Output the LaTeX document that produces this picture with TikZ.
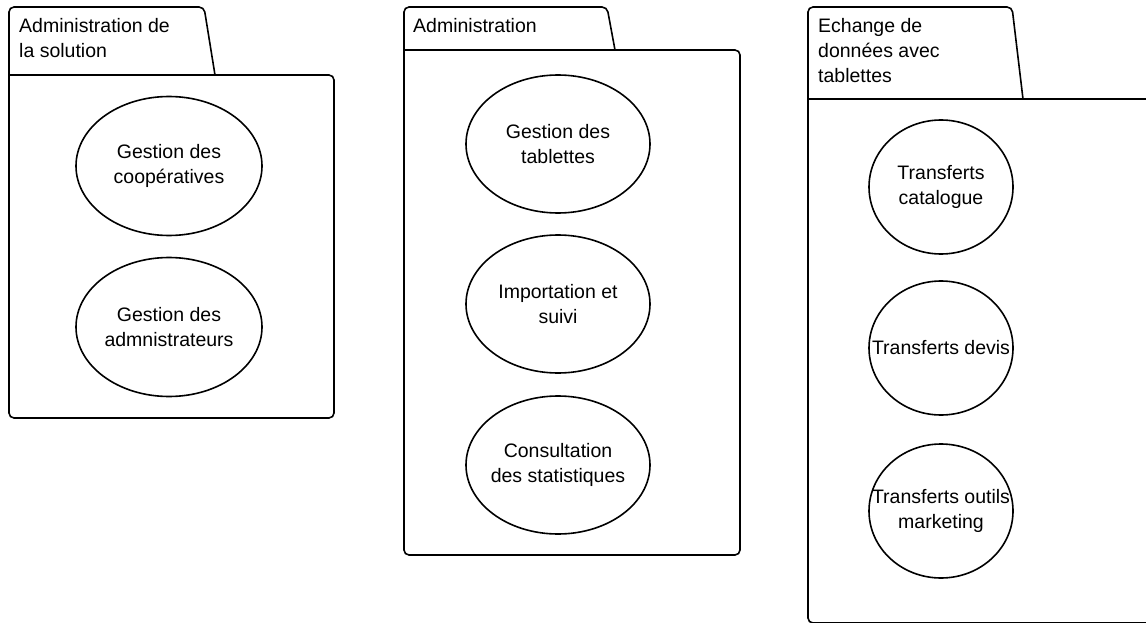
\documentclass[tikz,border=0pt]{standalone}
\usepackage{fontspec}
\setmainfont{Liberation Sans}
\usetikzlibrary{shapes.geometric}

\begin{document}
\begin{tikzpicture}[
        x=1pt, y=-1pt,
        font=\fontsize{19.5}{25}\selectfont,
        outline/.style={draw, line width=1.6pt, rounded corners=5pt},
        tabtext/.style={anchor=north west, align=left, inner sep=0pt},
        casetext/.style={align=center, inner sep=0pt},
        usecase/.style={draw, ellipse, line width=1.6pt, inner sep=0pt, minimum width=186pt, minimum height=139pt,
            label={[casetext]center:#1}},
        narrowcase/.style={usecase=#1, minimum width=144pt, minimum height=134pt}
    ]
    \clip (0,0) rectangle (1146,623);

    % --- Package 1 (Left) ---
    \draw[outline] (9,75) -- (9,7) -- (204,7) -- (215,75);
    \draw[outline] (9,75) -- (334,75) -- (334,418) -- (9,418) -- (9,75);
    \node[tabtext] (p1_title) at (19,18) {Administration de\\la solution};

    \node[usecase={Gestion des\\coopératives}] (uc_coop) at (169,166) {};
    \node[usecase={Gestion des\\admnistrateurs}] (uc_admin) at (169,327) {};

    % --- Package 2 (Middle) ---
    \draw[outline] (404,50) -- (404,7) -- (607,7) -- (615,50);
    \draw[outline] (404,50) -- (740,50) -- (740,555) -- (404,555) -- (404,50);
    \node[tabtext] (p2_title) at (413,18) {Administration};

    \node[usecase={Gestion des\\tablettes}, minimum width=184pt, minimum height=138pt] (uc_tab) at (558,144) {};
    \node[usecase={Importation et\\suivi}, minimum width=184pt, minimum height=138pt] (uc_import) at (558,304) {};
    \node[usecase={Consultation\\des statistiques}, minimum width=184pt, minimum height=138pt] (uc_stats) at (558,465) {};

    % --- Package 3 (Right, cut at the border) ---
    \draw[outline] (808,99) -- (808,7) -- (1012,7) -- (1023,99);
    \draw[outline] (808,99) -- (1170,99) -- (1170,623) -- (808,623) -- (808,99);
    \node[tabtext] (p3_title) at (818,18) {Echange de\\données avec\\tablettes};

    \node[narrowcase={Transferts\\catalogue}] (uc_cat) at (941,187) {};
    \node[narrowcase={Transferts devis}] (uc_devis) at (941,348) {};
    \node[narrowcase={Transferts outils\\marketing}] (uc_mkt) at (941,511) {};

\end{tikzpicture}
\end{document}
